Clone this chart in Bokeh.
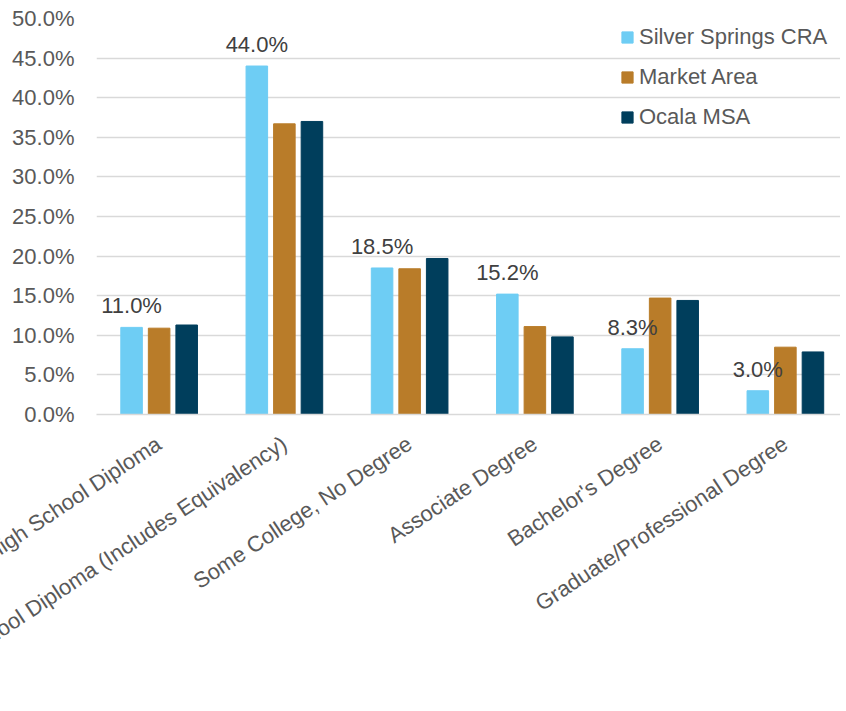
from bokeh.plotting import figure
from bokeh.models import ColumnDataSource, Range1d, FixedTicker, PrintfTickFormatter, Legend, LegendItem, LabelSet
from bokeh.transform import dodge
from bokeh.core.properties import value
from bokeh.embed import file_html
from bokeh.resources import INLINE

categories = [
    "Less Than High School Diploma",
    "High School Diploma (Includes Equivalency)",
    "Some College, No Degree",
    "Associate Degree",
    "Bachelor's Degree",
    "Graduate/Professional Degree",
]
series_names = ["Silver Springs CRA", "Market Area", "Ocala MSA"]
silver = [11.0, 44.0, 18.5, 15.2, 8.3, 3.0]
market = [10.9, 36.7, 18.4, 11.1, 14.7, 8.5]
ocala = [11.3, 37.0, 19.7, 9.8, 14.4, 7.9]
y_ticks = [0, 5, 10, 15, 20, 25, 30, 35, 40, 45, 50]

colors = ["#6ECDF4", "#B97C29", "#003E5C"]
FONT = "Liberation Sans"
GRAY = "#595959"

pos = list(range(len(categories)))
src = ColumnDataSource(dict(
    x=pos, silver=silver, market=market, ocala=ocala,
    lab=[f"{v:.1f}%" for v in silver],
))

X0, X1 = -0.5, 5.44
p = figure(width=840, height=705, output_backend="svg", toolbar_location=None,
           x_range=Range1d(X0, X1), y_range=Range1d(0, 50),
           min_border_left=96, min_border_right=0, min_border_top=18, min_border_bottom=291)
p.outline_line_color = None
p.background_fill_color = "white"

off = 0.22
bw = 0.172
r1 = p.vbar(x=dodge("x", -off, range=p.x_range), top="silver", width=bw, source=src, color=colors[0])
r2 = p.vbar(x=dodge("x", 0, range=p.x_range), top="market", width=bw, source=src, color=colors[1])
r3 = p.vbar(x=dodge("x", off, range=p.x_range), top="ocala", width=bw, source=src, color=colors[2])

labels = LabelSet(x=dodge("x", -off, range=p.x_range), y="silver", text="lab", source=src,
                  text_align="center", text_baseline="alphabetic", y_offset=14,
                  text_font=value(FONT), text_font_size=value("22px"), text_color="#404040")
p.add_layout(labels)

# blank edge ticks keep Bokeh from nudging the first/last category labels
edge_lo, edge_hi = X0 + 0.01, X1 - 0.01
p.xaxis.ticker = FixedTicker(ticks=[edge_lo] + pos + [edge_hi])
overrides = {i: c for i, c in enumerate(categories)}
overrides[edge_lo] = " "
overrides[edge_hi] = " "
p.xaxis.major_label_overrides = overrides
p.xaxis.major_label_orientation = 0.585
p.xaxis.major_tick_line_color = None
p.xaxis.minor_tick_line_color = None
p.xaxis.major_tick_out = 0
p.xaxis.major_tick_in = 0
p.xaxis.axis_line_color = "#D9D9D9"
p.xaxis.axis_line_width = 1.5
p.xaxis.major_label_standoff = 27
p.xaxis.major_label_text_font = FONT
p.xaxis.major_label_text_font_size = "22px"
p.xaxis.major_label_text_color = GRAY

p.yaxis.ticker = FixedTicker(ticks=y_ticks)
p.yaxis.formatter = PrintfTickFormatter(format="%.1f%%")
p.yaxis.axis_line_color = None
p.yaxis.major_tick_line_color = None
p.yaxis.minor_tick_line_color = None
p.yaxis.major_tick_out = 0
p.yaxis.major_tick_in = 0
p.yaxis.major_label_standoff = 22
p.yaxis.major_label_text_font = FONT
p.yaxis.major_label_text_font_size = "22px"
p.yaxis.major_label_text_color = GRAY

p.xgrid.grid_line_color = None
p.ygrid.ticker = FixedTicker(ticks=y_ticks)
p.ygrid.grid_line_color = "#D9D9D9"
p.ygrid.grid_line_width = 1.5

legend = Legend(items=[LegendItem(label=series_names[0], renderers=[r1]),
                       LegendItem(label=series_names[1], renderers=[r2]),
                       LegendItem(label=series_names[2], renderers=[r3])],
                location=(524, 284), padding=0, margin=0, spacing=14,
                glyph_width=14, glyph_height=14, label_height=14, label_standoff=5,
                label_text_font=FONT, label_text_font_size="22px", label_text_color=GRAY,
                border_line_color=None, background_fill_alpha=0)
p.add_layout(legend)

open("out.html", "w").write(file_html(p, INLINE))
